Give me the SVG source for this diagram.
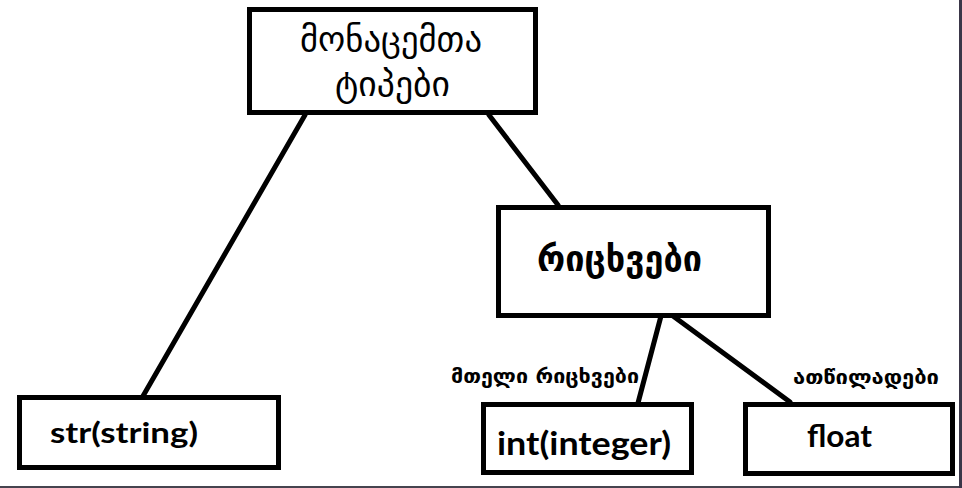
<svg xmlns="http://www.w3.org/2000/svg" width="962" height="488" viewBox="0 0 962 488">
<style>
.box{fill:#fff;stroke:#000;stroke-width:5}
.edge{stroke:#000;stroke-width:5;stroke-linecap:round;fill:none}
.ka{font-family:"DejaVu Sans",sans-serif;fill:#000}
.lat{font-family:Lato,"Liberation Sans",sans-serif;font-weight:bold;fill:#000}
</style>
<rect x="0" y="0" width="962" height="488" fill="#fff"/>
<g id="frame">
<line x1="0" y1="487" x2="962" y2="487" stroke="#46444f" stroke-width="2"/>
<line x1="960.5" y1="0" x2="960.5" y2="488" stroke="#3a3648" stroke-width="3"/>
</g>
<g id="connectors">
<line class="edge" x1="305" y1="115" x2="139" y2="403"/>
<line class="edge" x1="489" y1="115" x2="558" y2="205"/>
<line class="edge" x1="661" y1="316" x2="638" y2="403"/>
<line class="edge" x1="673" y1="316" x2="790" y2="402"/>
</g>
<g id="node-root">
<rect class="box" x="249.5" y="9.5" width="286" height="103"/>
<text class="ka" x="300" y="51" font-size="35" textLength="182" lengthAdjust="spacingAndGlyphs">მონაცემთა</text>
<text class="ka" x="335" y="96" font-size="35" textLength="115" lengthAdjust="spacingAndGlyphs">ტიპები</text>
</g>
<g id="node-numbers">
<rect class="box" x="498.5" y="207.5" width="270" height="108"/>
<text class="ka" x="537" y="271" font-size="35" font-weight="bold" textLength="165" lengthAdjust="spacingAndGlyphs">რიცხვები</text>
</g>
<g id="label-int">
<text class="ka" x="451" y="383" font-size="20" font-weight="bold" textLength="188" lengthAdjust="spacingAndGlyphs">მთელი რიცხვები</text>
</g>
<g id="label-float">
<text class="ka" x="793" y="384" font-size="20" font-weight="bold" textLength="146" lengthAdjust="spacingAndGlyphs">ათწილადები</text>
</g>
<g id="node-str">
<rect class="box" x="19.5" y="397.5" width="259" height="70"/>
<text class="lat" x="50" y="443" font-size="29" textLength="148" lengthAdjust="spacingAndGlyphs">str(string)</text>
</g>
<g id="node-int">
<rect class="box" x="483.5" y="404.5" width="208" height="68"/>
<text class="lat" x="497" y="455" font-size="32" textLength="174" lengthAdjust="spacingAndGlyphs">int(integer)</text>
</g>
<g id="node-float">
<rect class="box" x="745.5" y="404.5" width="207" height="69"/>
<text class="lat" x="807" y="447" font-size="30" textLength="65" lengthAdjust="spacingAndGlyphs">float</text>
</g>
</svg>
